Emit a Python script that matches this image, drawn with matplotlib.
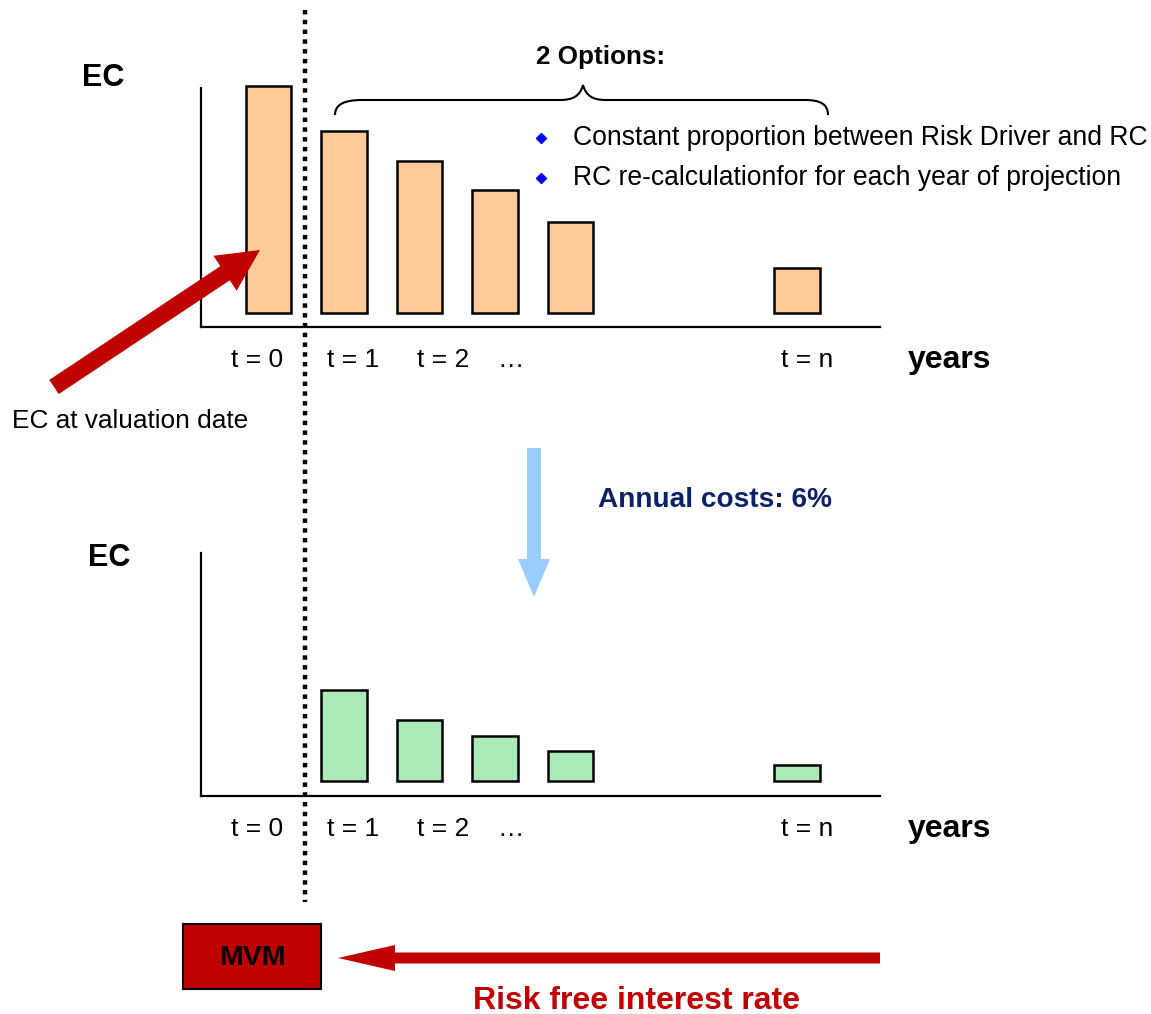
import matplotlib
matplotlib.use("Agg")
from matplotlib import pyplot as plt
from matplotlib.patches import FancyArrow, Rectangle, PathPatch
from matplotlib.path import Path

# projected economic capital per year (t = 0, 1, 2, 3, 4, ..., n)
years_pos = [0, 1, 2, 3, 4, 7]
ec_values = [100, 80, 67, 54, 40, 20]
cost_pos = [1, 2, 3, 4, 7]
cost_values = [40, 27, 20, 13, 7]

tick_pos = [-0.15, 1.12, 2.31, 3.21, 7.13]
tick_labels = ['t = 0', 't = 1', 't = 2', '\u2026', 't = n']

options = ['Constant proportion between Risk Driver and RC',
           'RC re-calculationfor for each year of projection']

W, H = 1151, 1014
plt.rcParams['font.family'] = ['Liberation Sans', 'DejaVu Sans']

fig = plt.figure(figsize=(W / 100, H / 100), dpi=100)


def add_px_axes(left, top, right, bottom):
    # axes placed with pixel coordinates measured from the top left corner
    return fig.add_axes([left / W, 1 - bottom / H, (right - left) / W, (bottom - top) / H])


def bar_panel(ax, xs, vals, color, ylim):
    ax.bar(xs, vals, width=0.6, color=color, edgecolor='black', linewidth=1.8, clip_on=False)
    ax.set_xlim(-0.894, 8.1)
    ax.set_ylim(*ylim)
    for side in ['top', 'right']:
        ax.spines[side].set_visible(False)
    for side in ['left', 'bottom']:
        ax.spines[side].set_linewidth(1.6)
    ax.set_yticks([])
    ax.set_xticks(tick_pos)
    ax.set_xticklabels(tick_labels, fontsize=19)
    ax.tick_params(axis='x', length=0, pad=15)
    ax.patch.set_alpha(0)


ax_top = add_px_axes(201, 88, 880, 327)
bar_panel(ax_top, years_pos, ec_values, '#FFCC99', (-6.2, 99.1))

ax_bot = add_px_axes(201, 553, 880, 796)
bar_panel(ax_bot, cost_pos, cost_values, '#AAEAB8', (-6.6, 100.4))

# overlay in pixel units for the annotations
cv = fig.add_axes([0, 0, 1, 1])
cv.set_xlim(0, W)
cv.set_ylim(H, 0)
cv.axis('off')
cv.patch.set_alpha(0)

# valuation date divider
cv.plot([305, 305], [10, 902], color='black', linewidth=3.2, linestyle=(0, (1, 1.2)))

# axis titles
for y in [78, 558]:
    cv.text(82 if y < 300 else 88, y, 'EC', fontsize=22, fontweight='bold', va='center')
for y in [360, 829]:
    cv.text(908, y, 'years', fontsize=23, fontweight='bold', va='center')

# brace over the projected years
verts = [(335, 115), (335, 104), (345, 100), (362, 100),
         (560, 100),
         (573, 100), (580, 96), (583, 85),
         (586, 96), (593, 100), (606, 100),
         (805, 100),
         (820, 100), (828, 104), (828, 115)]
codes = [Path.MOVETO, Path.CURVE4, Path.CURVE4, Path.CURVE4,
         Path.LINETO,
         Path.CURVE4, Path.CURVE4, Path.CURVE4,
         Path.CURVE4, Path.CURVE4, Path.CURVE4,
         Path.LINETO,
         Path.CURVE4, Path.CURVE4, Path.CURVE4]
cv.add_patch(PathPatch(Path(verts, codes), facecolor='none', edgecolor='black', linewidth=1.5))
cv.text(601, 57, '2 Options:', fontsize=18.7, fontweight='bold', ha='center', va='center')

for i, line in enumerate(options):
    y = 138 + 40 * i
    cv.plot(541, y, marker='D', color='#0000FF', markersize=5.5)
    cv.text(573, y, line, fontsize=19.1, va='center')

# EC at valuation date pointer
cv.add_patch(FancyArrow(54, 387, 206, -137, width=17, head_width=42, head_length=42,
                        length_includes_head=True, color='#C00000', linewidth=0))
cv.text(12, 421, 'EC at valuation date', fontsize=18.9, va='center')

# cost of capital step
cv.add_patch(FancyArrow(534, 448, 0, 149, width=14, head_width=32, head_length=38,
                        length_includes_head=True, color='#99CCFF', linewidth=0))
cv.text(598, 500, 'Annual costs: 6%', fontsize=20.2, fontweight='bold', color='#0D2266', va='center')

# discounting to the market value margin
cv.add_patch(Rectangle((183, 924), 138, 65, facecolor='#C00000', edgecolor='black', linewidth=1.5))
cv.text(252, 958, 'MVM', fontsize=20.5, fontweight='bold', ha='center', va='center')
cv.add_patch(FancyArrow(880, 958, -542, 0, width=11, head_width=26, head_length=57,
                        length_includes_head=True, color='#C00000', linewidth=0))
cv.text(637, 1001, 'Risk free interest rate', fontsize=23, fontweight='bold',
        color='#C00000', ha='center', va='center')

fig.savefig('out.png', dpi=100)
